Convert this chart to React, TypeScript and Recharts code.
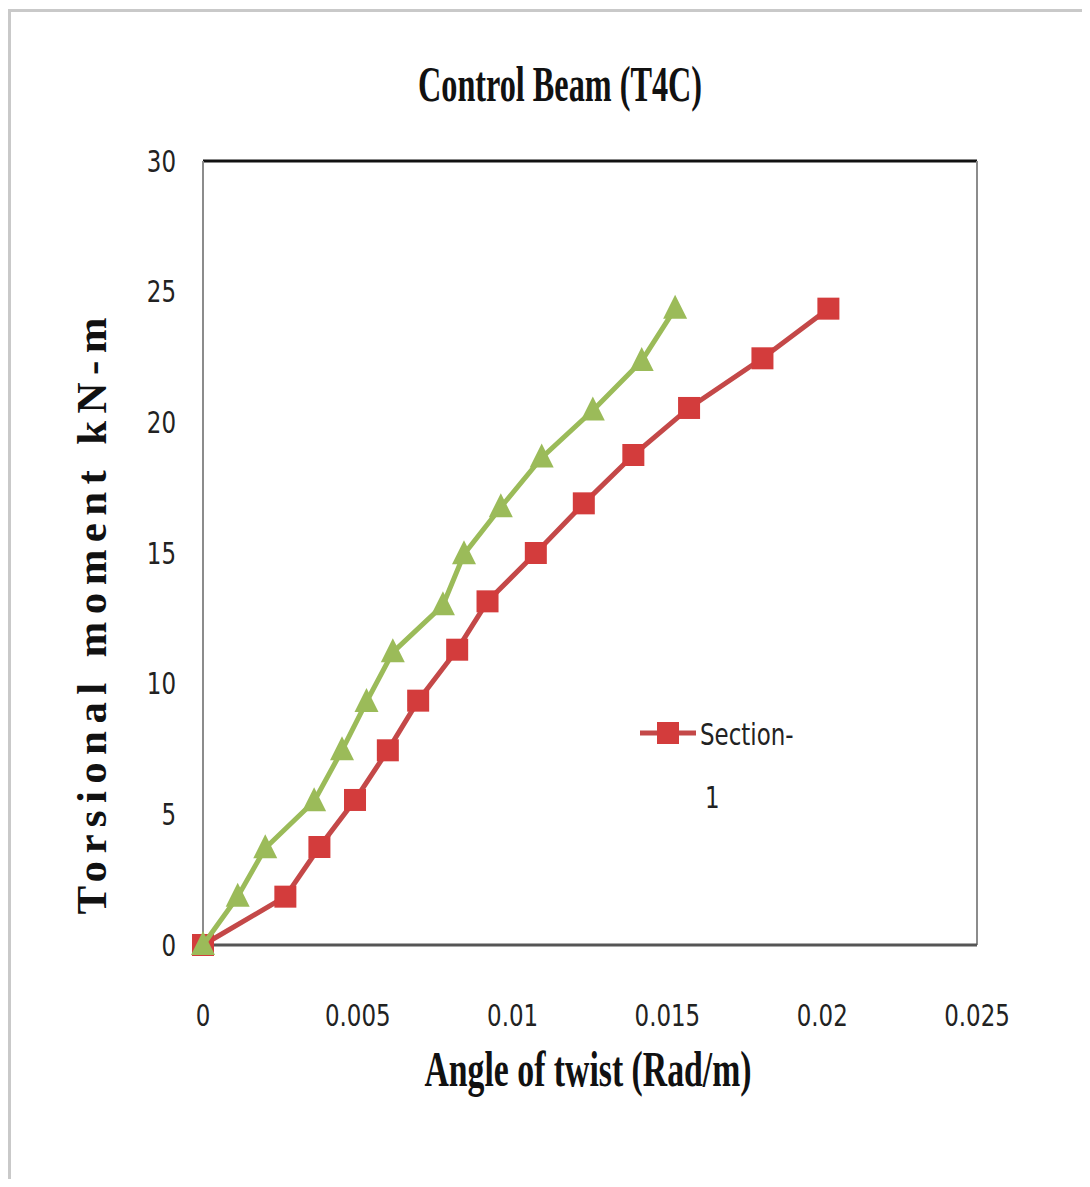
import { ScatterChart, Scatter, XAxis, YAxis, ReferenceLine } from "recharts"

// ─── Data ────────────────────────────────────────────────────────────────────
const section1Twist = [0, 0.00266, 0.00376, 0.00491, 0.00597, 0.00695, 0.00821, 0.00919, 0.01075, 0.0123, 0.0139, 0.0157, 0.01807, 0.0202]
const section1Moment = [0, 1.85, 3.75, 5.55, 7.45, 9.35, 11.3, 13.15, 15.0, 16.9, 18.75, 20.55, 22.45, 24.35]

const section2Twist = [0, 0.00112, 0.00201, 0.00359, 0.00449, 0.00528, 0.00613, 0.00775, 0.00843, 0.00962, 0.01094, 0.01259, 0.01417, 0.01525]
const section2Moment = [0, 1.85, 3.7, 5.5, 7.45, 9.3, 11.2, 13.0, 14.95, 16.75, 18.65, 20.45, 22.35, 24.35]

const xTicks = [0, 0.005, 0.01, 0.015, 0.02, 0.025]
const yTicks = [0, 5, 10, 15, 20, 25, 30]

const RED_LINE = "#c44848"
const RED_MARK = "#d33c3c"
const GREEN = "#9bbb59"

const section1 = section1Twist.map((x, i) => ({ x, y: section1Moment[i] }))
const section2 = section2Twist.map((x, i) => ({ x, y: section2Moment[i] }))

const sansNarrow = "'Liberation Sans Narrow', 'DejaVu Sans Condensed', 'Open Sans', sans-serif"
const serif = "'Liberation Serif', 'DejaVu Serif', serif"
const SQUEEZE = 0.85

// narrow, Calibri-like tick text
function NarrowTick(props: any) {
  const { x, y, payload, textAnchor, axis } = props
  const dy = axis === "x" ? "0.71em" : "0.355em"
  return (
    <g transform={`translate(${x},${y}) scale(${SQUEEZE},1)`}>
      <text x={0} y={0} dy={dy} textAnchor={textAnchor} fontSize={30} fontFamily={sansNarrow} fill="#222">
        {payload.value}
      </text>
    </g>
  )
}

function Square(props: any) {
  const { cx, cy } = props
  return <rect x={cx - 11} y={cy - 11} width={22} height={22} fill={RED_MARK} />
}

function Triangle(props: any) {
  const { cx, cy } = props
  return <polygon points={`${cx},${cy - 14} ${cx - 12},${cy + 10} ${cx + 12},${cy + 10}`} fill={GREEN} />
}

export default function App() {
  return (
    <div style={{ position: "relative", width: 1074, height: 1171, background: "#fff" }}>
      {/* frame edge of the original figure */}
      <div
        style={{
          position: "absolute",
          left: 0,
          top: 1,
          right: -8,
          bottom: -8,
          borderTop: "3px solid #c9c9c9",
          borderLeft: "3px solid #c9c9c9",
        }}
      />

      <ScatterChart width={1074} height={1171} margin={{ top: 153, right: 105, bottom: 134, left: 135 }}>
        <XAxis
          type="number"
          dataKey="x"
          domain={[0, 0.025]}
          ticks={xTicks}
          tick={<NarrowTick axis="x" />}
          tickLine={false}
          tickMargin={54}
          axisLine={{ stroke: "#555", strokeWidth: 3 }}
          height={100}
        />
        <YAxis
          type="number"
          dataKey="y"
          domain={[0, 30]}
          ticks={yTicks}
          tick={<NarrowTick axis="y" />}
          tickLine={false}
          tickMargin={21}
          axisLine={{ stroke: "#8c8c8c", strokeWidth: 2 }}
          width={60}
        />
        <ReferenceLine y={30} stroke="#111" strokeWidth={3} />
        <ReferenceLine x={0.025} stroke="#8c8c8c" strokeWidth={2} />

        <Scatter
          name="Section-1"
          data={section1}
          line={{ stroke: RED_LINE, strokeWidth: 5 }}
          shape={<Square />}
          isAnimationActive={false}
        />
        <Scatter
          name="Section-2"
          data={section2}
          line={{ stroke: GREEN, strokeWidth: 5 }}
          shape={<Triangle />}
          isAnimationActive={false}
        />
      </ScatterChart>

      {/* titles and legend */}
      <svg width={1074} height={1171} style={{ position: "absolute", left: 0, top: 0, pointerEvents: "none" }}>
        <text
          x={552}
          y={93}
          textAnchor="middle"
          fontFamily={serif}
          fontWeight="bold"
          fontSize={50}
          textLength={284}
          lengthAdjust="spacingAndGlyphs"
          fill="#111"
        >
          Control Beam (T4C)
        </text>
        <text
          x={580}
          y={1078}
          textAnchor="middle"
          fontFamily={serif}
          fontWeight="bold"
          fontSize={50}
          textLength={327}
          lengthAdjust="spacingAndGlyphs"
          fill="#111"
        >
          Angle of twist (Rad/m)
        </text>
        <text
          transform="translate(98, 608) rotate(-90)"
          textAnchor="middle"
          fontFamily={serif}
          fontWeight="bold"
          fontSize={43}
          textLength={597}
          lengthAdjust="spacing"
          fill="#111"
        >
          Torsional moment kN-m
        </text>

        <line x1={632} y1={725} x2={688} y2={725} stroke={RED_LINE} strokeWidth={5} />
        <rect x={649} y={714} width={22} height={22} fill={RED_MARK} />
        <g transform={`translate(692, 737) scale(${SQUEEZE},1)`}>
          <text x={0} y={0} fontSize={30} fontFamily={sansNarrow} fill="#222">
            Section-
          </text>
        </g>
        <g transform={`translate(697, 800) scale(${SQUEEZE},1)`}>
          <text x={0} y={0} fontSize={30} fontFamily={sansNarrow} fill="#222">
            1
          </text>
        </g>
      </svg>
    </div>
  )
}
